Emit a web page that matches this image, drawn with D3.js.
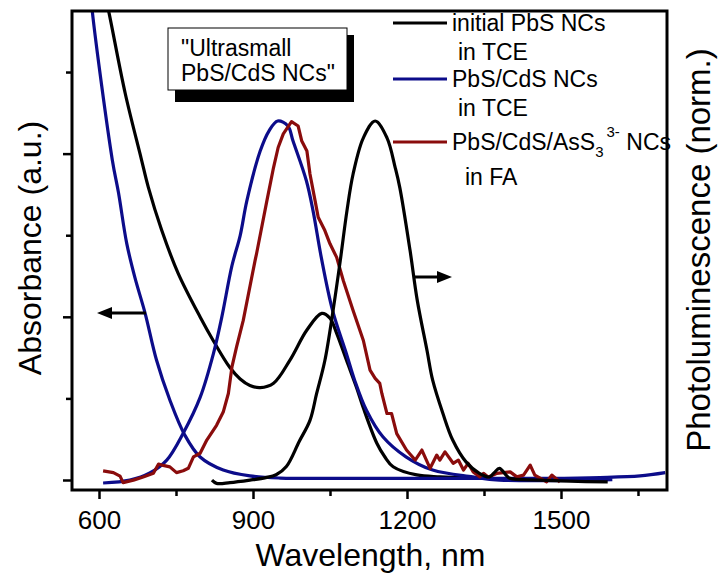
<!DOCTYPE html>
<html>
<head>
<meta charset="utf-8">
<script src="https://cdn.jsdelivr.net/npm/d3@7"></script>
<style>
  body { margin: 0; background: #fff; }
  svg { font-family: "Liberation Sans", Arial, sans-serif; }
</style>
</head>
<body>
<svg id="chart" width="718" height="577"></svg>
<script>
// ---- data ----
// absorbance, left axis (a.u.)
const blackAbsNm  = [611, 619, 651, 682, 696, 722, 754, 797, 823, 855, 875, 894, 914, 940, 972, 1005, 1034, 1050, 1063, 1082, 1102, 1115, 1141, 1157, 1173, 1219, 1264, 1323];
const blackAbsVal = [2.98, 2.87, 2.37, 1.973, 1.795, 1.532, 1.268, 0.999, 0.852, 0.689, 0.619, 0.579, 0.566, 0.593, 0.735, 0.919, 1.021, 0.991, 0.899, 0.735, 0.564, 0.441, 0.227, 0.141, 0.081, 0.031, 0.02, 0.015];

const blueAbsNm  = [582, 587, 626, 638, 654, 670, 690, 712, 738, 767, 797, 842, 894, 953, 1089, 1284, 1478, 1576, 1654, 1703];
const blueAbsVal = [3.06, 2.87, 1.96, 1.76, 1.45, 1.24, 1.02, 0.735, 0.49, 0.276, 0.141, 0.061, 0.025, 0.012, 0.01, 0.01, 0.01, 0.015, 0.025, 0.045];

// photoluminescence, right axis (normalised)
const blackPlNm  = [820, 829, 855, 894, 925, 945, 965, 990, 1011, 1024, 1040, 1056, 1070, 1083, 1095, 1115, 1138, 1161, 1177, 1186, 1206, 1220, 1239, 1250, 1270, 1289, 1315, 1341, 1361, 1370, 1380, 1393, 1400, 1458, 1517, 1591];
const blackPlVal = [-0.003, -0.012, -0.01, -0.003, 0.004, 0.012, 0.035, 0.105, 0.164, 0.239, 0.331, 0.471, 0.61, 0.749, 0.852, 0.953, 1.0, 0.953, 0.87, 0.814, 0.638, 0.499, 0.359, 0.276, 0.183, 0.109, 0.048, 0.016, 0.006, 0.018, 0.03, 0.011, 0.002, -0.003, -0.006, -0.008];

const bluePlNm  = [608, 660, 699, 732, 764, 797, 823, 839, 859, 875, 888, 914, 931, 948, 968, 978, 1004, 1017, 1033, 1055, 1082, 1098, 1121, 1153, 1198, 1250, 1328, 1380, 1600];
const bluePlVal = [-0.011, -0.003, 0.017, 0.053, 0.128, 0.228, 0.351, 0.451, 0.596, 0.68, 0.777, 0.916, 0.972, 1.0, 0.986, 0.944, 0.833, 0.749, 0.619, 0.471, 0.35, 0.276, 0.192, 0.118, 0.062, 0.025, 0.006, -0.003, -0.002];

const redPlNm  = [608, 628, 641, 647, 667, 686, 706, 716, 725, 738, 751, 764, 774, 784, 797, 810, 829, 842, 852, 859, 868, 881, 904, 907, 927, 940, 949, 959, 975, 988, 995, 1005, 1011, 1021, 1027, 1040, 1050, 1063, 1076, 1095, 1115, 1128, 1138, 1147, 1151, 1161, 1170, 1180, 1199, 1216, 1229, 1245, 1258, 1264, 1274, 1290, 1300, 1310, 1319, 1329, 1342, 1349, 1358, 1368, 1375, 1401, 1414, 1427, 1440, 1449, 1472, 1482, 1498];
const redPlVal = [0.023, 0.018, 0.008, -0.01, -0.003, 0.006, 0.016, 0.042, 0.038, 0.034, 0.018, 0.023, 0.03, 0.062, 0.072, 0.109, 0.15, 0.187, 0.239, 0.313, 0.369, 0.443, 0.61, 0.63, 0.777, 0.87, 0.926, 0.964, 0.998, 0.986, 0.944, 0.916, 0.852, 0.777, 0.731, 0.694, 0.657, 0.619, 0.554, 0.471, 0.387, 0.304, 0.281, 0.267, 0.239, 0.183, 0.183, 0.127, 0.081, 0.053, 0.081, 0.03, 0.067, 0.053, 0.076, 0.044, 0.053, 0.025, 0.044, 0.02, 0.006, 0.016, 0.006, 0.011, 0.016, 0.02, 0.006, 0.011, 0.039, 0.011, -0.008, 0.011, -0.008];

const xMajorTicks = [600, 900, 1200, 1500];
const xMinorTicks = [750, 1050, 1350, 1650];
const yMajorTicks = [0, 1, 2];
const yMinorTicks = [0.5, 1.5, 2.5];

const legendNames = ['initial PbS NCs', 'PbS/CdS NCs', 'PbS/CdS/AsS'];
const legendSub   = ['in TCE', 'in TCE', 'in FA'];
const seriesColors = ['#000000', '#0c0c8a', '#8a0c0c'];

// ---- layout ----
const svg = d3.select('#chart');
const plot = { left: 72, right: 667, top: 11, bottom: 490 };

const xScale = d3.scaleLinear().domain([547.4, 1706.5]).range([plot.left, plot.right]);
const yAbs = d3.scaleLinear().domain([-0.0613, 2.874]).range([plot.bottom, plot.top]);
const yPl = d3.scaleLinear().domain([-0.0306, 1.0028]).range([plot.bottom, 120]);

svg.append('defs').append('clipPath').attr('id', 'plot-clip')
  .append('rect')
    .attr('x', plot.left).attr('y', plot.top)
    .attr('width', plot.right - plot.left).attr('height', plot.bottom - plot.top);

// axes (ticks outward, no labels on y)
const xAxisG = svg.append('g').attr('transform', `translate(0,${plot.bottom})`)
  .call(d3.axisBottom(xScale).tickValues(xMajorTicks).tickSize(9).tickPadding(12).tickFormat(d3.format('d')));
xAxisG.append('g')
  .call(d3.axisBottom(xScale).tickValues(xMinorTicks).tickSize(6).tickFormat(''));
xAxisG.selectAll('.domain').remove();
xAxisG.selectAll('line').attr('stroke', '#000').attr('stroke-width', 2.5);
xAxisG.selectAll('text').attr('font-size', 26).attr('fill', '#000')
  .attr('font-family', '"Liberation Sans", Arial, sans-serif');

const yAxisG = svg.append('g').attr('transform', `translate(${plot.left},0)`)
  .call(d3.axisLeft(yAbs).tickValues(yMajorTicks).tickSize(9).tickFormat(''));
yAxisG.append('g')
  .call(d3.axisLeft(yAbs).tickValues(yMinorTicks).tickSize(6).tickFormat(''));
yAxisG.selectAll('.domain').remove();
yAxisG.selectAll('line').attr('stroke', '#000').attr('stroke-width', 2.5);

// curves
const zip = (xs, ys) => xs.map((d, i) => [d, ys[i]]);
const smooth = d3.curveCatmullRom.alpha(0.5);
const absLine = d3.line().x(d => xScale(d[0])).y(d => yAbs(d[1])).curve(smooth);
const plLine = d3.line().x(d => xScale(d[0])).y(d => yPl(d[1])).curve(smooth);
const plNoisy = d3.line().x(d => xScale(d[0])).y(d => yPl(d[1]));

const curves = [
  { d: absLine(zip(blackAbsNm, blackAbsVal)), c: seriesColors[0] },
  { d: absLine(zip(blueAbsNm, blueAbsVal)), c: seriesColors[1] },
  { d: plLine(zip(bluePlNm, bluePlVal)), c: seriesColors[1] },
  { d: plNoisy(zip(redPlNm, redPlVal)), c: seriesColors[2] },
  { d: plLine(zip(blackPlNm, blackPlVal)), c: seriesColors[0] }
];
svg.append('g').attr('clip-path', 'url(#plot-clip)')
  .selectAll('path').data(curves).enter().append('path')
    .attr('d', d => d.d)
    .attr('fill', 'none')
    .attr('stroke', d => d.c)
    .attr('stroke-width', 3.2)
    .attr('stroke-linejoin', 'round');

// frame
svg.append('rect')
  .attr('x', plot.left).attr('y', plot.top)
  .attr('width', plot.right - plot.left).attr('height', plot.bottom - plot.top)
  .attr('fill', 'none').attr('stroke', '#000').attr('stroke-width', 3);

// arrows pointing to the axes
const arrowHead = (g, x, y, dir) => {
  g.append('path')
    .attr('d', `M${x},${y} l${-dir * 15},-6 l0,12 Z`)
    .attr('fill', '#000');
};
const arrows = svg.append('g');
arrows.append('line').attr('x1', 146).attr('x2', 110).attr('y1', 313).attr('y2', 313)
  .attr('stroke', '#000').attr('stroke-width', 3);
arrowHead(arrows, 97, 313, -1);
arrows.append('line').attr('x1', 415).attr('x2', 440).attr('y1', 277).attr('y2', 277)
  .attr('stroke', '#000').attr('stroke-width', 3);
arrowHead(arrows, 452, 277, 1);

// inset label box with shadow
svg.append('rect').attr('x', 175).attr('y', 35).attr('width', 179).attr('height', 67).attr('fill', '#000');
svg.append('rect').attr('x', 168).attr('y', 28).attr('width', 179).attr('height', 62)
  .attr('fill', '#fff').attr('stroke', '#000').attr('stroke-width', 1);
const boxText = svg.append('text').attr('font-size', 23).attr('fill', '#000');
boxText.append('tspan').attr('x', 181).attr('y', 56).text('"Ultrasmall');
boxText.append('tspan').attr('x', 181).attr('y', 81).text('PbS/CdS NCs"');

// legend
const legendY = [23, 79, 142];
const legend = svg.append('g').attr('font-size', 23).attr('fill', '#000');
legendY.forEach((y, i) => {
  legend.append('line').attr('x1', 393).attr('x2', 447).attr('y1', y).attr('y2', y)
    .attr('stroke', seriesColors[i]).attr('stroke-width', 3);
  const t = legend.append('text').attr('x', 452).attr('y', y + 8).text(legendNames[i]);
  if (i === 2) {
    t.append('tspan').attr('font-size', 15).attr('dy', 7).text('3');
    t.append('tspan').attr('font-size', 15).attr('dy', -20).attr('dx', 3).text('3-');
    t.append('tspan').attr('dy', 13).text(' NCs');
  }
  legend.append('text').attr('x', i === 2 ? 465 : 458).attr('y', y + (i === 2 ? 43 : 37)).text(legendSub[i]);
});

// axis titles
svg.append('text')
  .attr('x', (plot.left + plot.right) / 2 + 1).attr('y', 566)
  .attr('text-anchor', 'middle').attr('font-size', 32).attr('fill', '#000')
  .text('Wavelength, nm');
svg.append('text')
  .attr('transform', 'translate(41,248) rotate(-90)')
  .attr('text-anchor', 'middle').attr('font-size', 32).attr('fill', '#000')
  .text('Absorbance (a.u.)');
svg.append('text')
  .attr('transform', 'translate(710,250) rotate(-90)')
  .attr('text-anchor', 'middle').attr('font-size', 33).attr('fill', '#000')
  .text('Photoluminescence (norm.)');
</script>
</body>
</html>
